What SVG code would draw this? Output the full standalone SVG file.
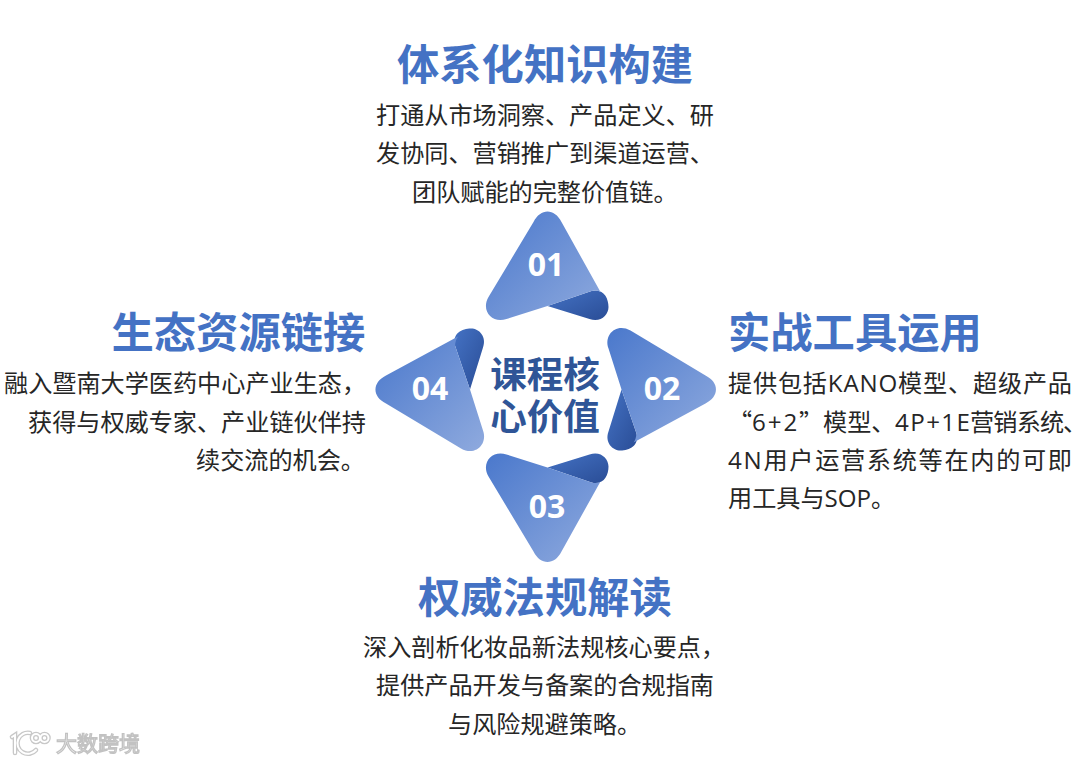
<svg xmlns="http://www.w3.org/2000/svg" width="1080" height="763" viewBox="0 0 1080 763">
<style>
text{font-family:"Open Sans","Noto Sans CJK SC",sans-serif}
.h{font-size:42.3px;font-weight:700;fill:#4472c4;font-family:"Noto Sans CJK SC",sans-serif}
.b{font-size:24.15px;fill:#262626}
.q{font-family:"Noto Sans CJK SC",sans-serif}
.n{font-size:32px;font-weight:700;fill:#fff;text-anchor:middle}
.c{font-size:36.5px;font-weight:700;fill:#2f5597;text-anchor:middle;font-family:"Noto Sans CJK SC",sans-serif}
.w{font-size:21px;fill:#fff;stroke:#c2c2c2;stroke-width:1.3;font-family:"Noto Sans CJK SC",sans-serif}
.l{fill:url(#lg)}
.d{fill:url(#dg)}
.lo{stroke:#c8c8c8;stroke-width:4.6;fill:none;stroke-linecap:round}
.li{stroke:#fff;stroke-width:2;fill:none;stroke-linecap:round}
</style>
<defs>
<linearGradient id="lg" x1="0" y1="0" x2="1" y2="1"><stop offset="0" stop-color="#4a78cc"/><stop offset="1" stop-color="#8faade"/></linearGradient>
<linearGradient id="dg" x1="0" y1="0" x2="1" y2="1"><stop offset="0" stop-color="#4472c4"/><stop offset="1" stop-color="#2a4d96"/></linearGradient>
<filter id="soft" x="-10%" y="-10%" width="120%" height="120%"><feGaussianBlur stdDeviation="0.5"/></filter>
<path id="logo" d="M12,737L15,735V753M36,750A10.5,10.5 0 1 1 30,733M32,738a4,4 0 1 0 8,0a4,4 0 1 0 -8,0M40.5,738a4,4 0 1 0 8,0a4,4 0 1 0 -8,0"/>
</defs>
<rect width="1080" height="763" fill="#fff"/>

<g id="node-01">
<path class="d" d="M547.5,306L591.5,291C603.5,288 608.5,298 608.5,307C608.5,315 600.5,323 589.5,319Z"/>
<path class="l" d="M533.5,222C540.5,208 554.5,208 561.5,222L600.5,292Q597.5,289.5 591.5,291L547.5,306L506.5,319C492.5,324 480.5,311 488.5,297Z"/>
<text class="n" x="546" y="276">01</text>
<text class="h" x="397" y="80">体系化知识构建</text>
<text class="b" x="376" y="124">打通从市场洞察、产品定义、研</text>
<text class="b" x="376" y="162">发协同、营销推广到渠道运营、</text>
<text class="b" x="412" y="201">团队赋能的完整价值链。</text>
</g>

<g id="node-02">
<path class="d" d="M621.5,389.5L636.5,433.5C639.5,445.5 629.5,450.5 620.5,450.5C612.5,450.5 604.5,442.5 608.5,431.5Z"/>
<path class="l" d="M705.5,375.5C719.5,382.5 719.5,396.5 705.5,403.5L633.5,442.5Q636,439.5 636.5,433.5L621.5,389.5L608.5,348.5C603.5,334.5 616.5,322.5 630.5,330.5Z"/>
<text class="n" x="662" y="400">02</text>
<text class="h" x="728" y="348">实战工具运用</text>
<text class="b" x="728" y="392" textLength="344" lengthAdjust="spacing">提供包括KANO模型、超级产品</text>
<text class="b" y="431"><tspan class="q" x="728">“</tspan><tspan x="752" letter-spacing="2">6+2</tspan><tspan class="q" x="799">”</tspan><tspan x="823">模型、</tspan><tspan x="895" letter-spacing="1.4">4P+1E</tspan><tspan x="970" letter-spacing="-0.8">营销系统</tspan><tspan x="1063" letter-spacing="-16">、</tspan></text>
<text class="b" x="728" y="469" textLength="344" lengthAdjust="spacing">4N用户运营系统等在内的可即</text>
<text class="b" x="728" y="507">用工具与SOP。</text>
</g>

<g id="node-03">
<path class="d" d="M547.5,467.5L591.5,482.5C603.5,485.5 608.5,475.5 608.5,466.5C608.5,458.5 600.5,450.5 589.5,454.5Z"/>
<path class="l" d="M533.5,551.5C540.5,565.5 554.5,565.5 561.5,551.5L600.5,481.5Q597.5,484 591.5,482.5L547.5,467.5L506.5,454.5C492.5,449.5 480.5,462.5 488.5,476.5Z"/>
<text class="n" x="547" y="518">03</text>
<text class="h" x="418" y="613">权威法规解读</text>
<text class="b" x="363" y="656">深入剖析化妆品新法规核心要点，</text>
<text class="b" x="376" y="694">提供产品开发与备案的合规指南</text>
<text class="b" x="448" y="733">与风险规避策略。</text>
</g>

<g id="node-04">
<path class="d" d="M470,389.5L455,345.5C452,333.5 462,328.5 471,328.5C479,328.5 487,336.5 483,347.5Z"/>
<path class="l" d="M386,403.5C372,396.5 372,382.5 386,375.5L458,336.5Q455.5,339.5 455,345.5L470,389.5L483,430.5C488,444.5 475,456.5 461,448.5Z"/>
<text class="n" x="430" y="400">04</text>
<text class="h" x="111.5" y="348">生态资源链接</text>
<text class="b" x="4" y="392">融入暨南大学医药中心产业生态，</text>
<text class="b" x="28" y="431">获得与权威专家、产业链伙伴持</text>
<text class="b" x="196" y="469">续交流的机会。</text>
</g>

<g id="center">
<text class="c"><tspan x="545" y="388">课程核</tspan><tspan x="545" y="430">心价值</tspan></text>
</g>

<g id="connectors"/>

<g id="watermark" filter="url(#soft)">
<use href="#logo" class="lo"/>
<use href="#logo" class="li"/>
<text class="w" x="56" y="751">大数跨境</text>
</g>
</svg>
